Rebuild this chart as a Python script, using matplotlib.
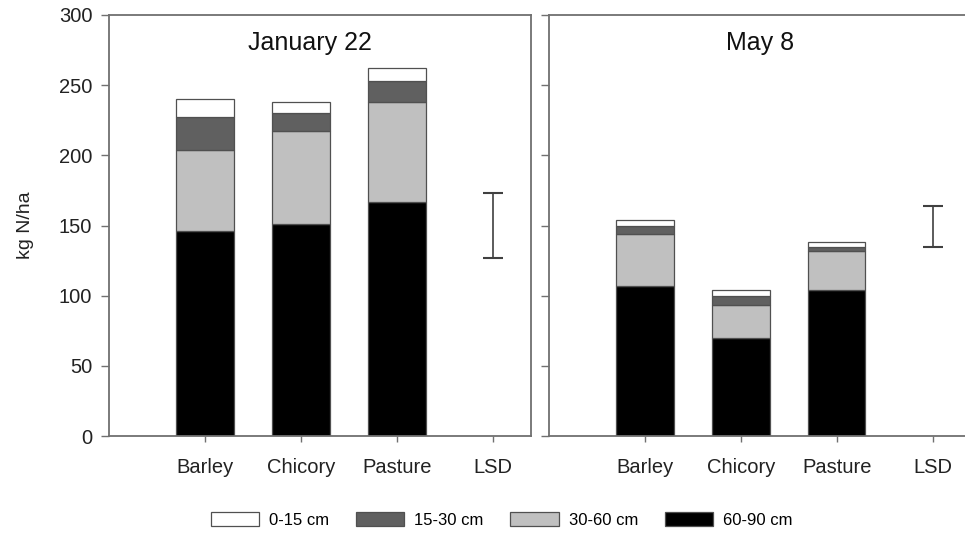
import numpy as np
import matplotlib.pyplot as plt

plt.rcParams['font.family'] = ['Liberation Sans', 'DejaVu Sans']

crops = ["Barley", "Chicory", "Pasture"]
xlabels = crops + ["LSD"]
depths = ["0-15 cm", "15-30 cm", "30-60 cm", "60-90 cm"]
colors = ["white", "#606060", "#c0c0c0", "black"]

# kg N/ha in each depth layer (bottom layer first: 60-90, 30-60, 15-30, 0-15)
jan_6090 = [146, 151, 167]
jan_3060 = [58, 66, 71]
jan_1530 = [23, 13, 15]
jan_015 = [13, 8, 9]

may_6090 = [107, 70, 104]
may_3060 = [37, 23, 28]
may_1530 = [6, 7, 3]
may_015 = [4, 4, 3]

jan_lsd = (150, 23)
may_lsd = (149.5, 14.5)

panels = [
    ("January 22", [jan_6090, jan_3060, jan_1530, jan_015], jan_lsd),
    ("May 8", [may_6090, may_3060, may_1530, may_015], may_lsd),
]

fig = plt.figure(figsize=(9.65, 5.35), dpi=100)
ax1 = fig.add_axes([109 / 965, 99 / 535, 422 / 965, 421 / 535])
ax2 = fig.add_axes([549 / 965, 99 / 535, 422 / 965, 421 / 535])

x = np.arange(1, 4)
spine_col = "#707070"
handles = []
for ax, (title, layers, lsd) in zip([ax1, ax2], panels):
    bottom = np.zeros(3)
    # stacking order: 60-90, 30-60, 15-30, 0-15
    for vals, col in zip(layers, colors[::-1]):
        b = ax.bar(x, vals, width=0.6, bottom=bottom, color=col,
                   edgecolor="#505050", linewidth=0.9)
        bottom += np.array(vals)
        if ax is ax1:
            handles.append(b)
    ax.errorbar([4], [lsd[0]], yerr=[lsd[1]], color="#404040",
                capsize=7, elinewidth=1.2, capthick=1.5)
    ax.set_xlim(0, 4.4)
    ax.set_ylim(0, 300)
    ax.set_xticks([1, 2, 3, 4])
    ax.set_xticklabels(xlabels, fontsize=14.5, color="#222222")
    ax.set_yticks(np.arange(0, 301, 50))
    ax.text(2.1 if ax is ax1 else 2.2, 280, title, fontsize=18,
            ha="center", va="center", color="#111111")
    for s in ax.spines.values():
        s.set_color(spine_col)
        s.set_linewidth(1.3)
    ax.tick_params(axis="both", colors=spine_col, length=6, width=1.0,
                   labelcolor="#222222", labelsize=14.5, pad=6)
    ax.tick_params(axis="x", length=4, pad=12)

ax1.set_ylabel("kg N/ha", fontsize=14, color="#222222", labelpad=18)
ax2.set_yticklabels([])
ax2.spines["right"].set_visible(False)

leg = fig.legend(handles[::-1], depths, loc="center", ncol=4,
                 bbox_to_anchor=(0.52, 0.028), frameon=False, fontsize=12,
                 handlelength=2.9, handleheight=0.9, columnspacing=1.6,
                 handletextpad=0.6)
for p in leg.get_patches():
    p.set_edgecolor("#505050")

fig.savefig("out.png", dpi=100, facecolor="white")
